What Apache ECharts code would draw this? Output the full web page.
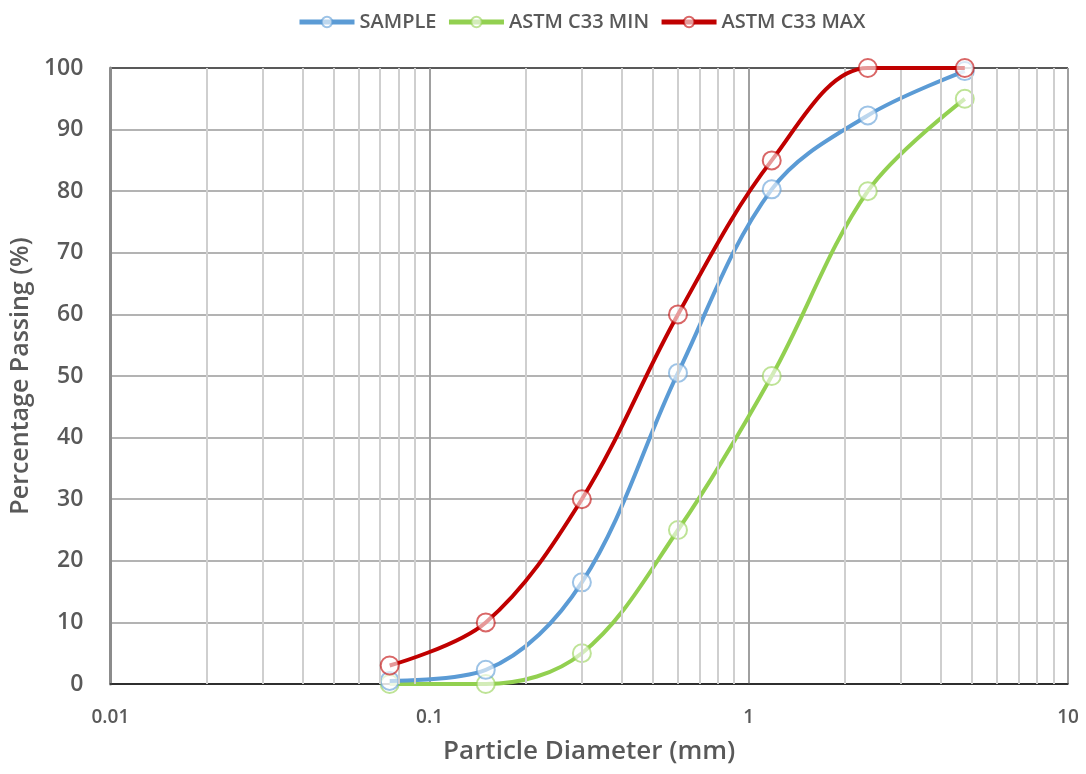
<!DOCTYPE html>
<html>
<head>
<meta charset="utf-8">
<script src="https://cdn.jsdelivr.net/npm/echarts@6/dist/echarts.min.js"></script>
<style>
  html, body { margin: 0; padding: 0; background: #fff; }
  #chart { width: 1086px; height: 774px; }
</style>
</head>
<body>
<div id="chart"></div>
<script>
(function () {
  "use strict";

  // sieve sizes (mm) and percentage passing
  const sieveSizes = [0.075, 0.15, 0.3, 0.6, 1.18, 2.36, 4.75];
  const sampleValues = [0.5, 2.3, 16.5, 50.5, 80.3, 92.3, 99.5];
  const minValues = [0, 0, 5, 25, 50, 80, 95];
  const maxValues = [3, 10, 30, 60, 85, 100, 100];
  const seriesNames = ["SAMPLE", "ASTM C33 MIN", "ASTM C33 MAX"];
  // minor log gridlines (2..9 of each decade)
  const minorGrid = [0.02, 0.03, 0.04, 0.05, 0.06, 0.07, 0.08, 0.09,
    0.2, 0.3, 0.4, 0.5, 0.6, 0.7, 0.8, 0.9,
    2, 3, 4, 5, 6, 7, 8, 9];

  const colors = ["#5b9bd5", "#92d050", "#c00000"];
  const font = "'Open Sans', 'Noto Sans', sans-serif";
  const textGray = "#595959";

  const chart = echarts.init(document.getElementById("chart"));

  const pair = vals => sieveSizes.map((x, i) => [x, vals[i]]);

  const curve = (name, vals, color, z) => ({
    name,
    type: "line",
    data: pair(vals),
    smooth: 0.35,
    z,
    symbol: "emptyCircle",
    symbolSize: 18,
    lineStyle: { color, width: 4 },
    itemStyle: { color, borderWidth: 1.5, opacity: 0.6 },
  });

  chart.setOption({
    animation: false,
    backgroundColor: "#fff",
    legend: {
      top: 7,
      left: 292,
      data: seriesNames,
      itemWidth: 55,
      itemHeight: 13,
      itemGap: 10,
      lineStyle: { width: 5 },
      textStyle: { fontFamily: font, fontSize: 20, fontWeight: 600, color: textGray },
    },
    grid: { left: 110, right: 18, top: 68, bottom: 90, containLabel: false },
    xAxis: {
      type: "log",
      logBase: 10,
      min: 0.01,
      max: 10,
      name: "Particle Diameter (mm)",
      nameLocation: "middle",
      nameGap: 55,
      nameTextStyle: { fontFamily: font, fontSize: 26, fontWeight: 600, color: textGray },
      axisLine: { show: true, lineStyle: { color: "#222", width: 1.5 } },
      axisTick: { show: false },
      axisLabel: {
        margin: 24,
        fontFamily: font, fontSize: 19, fontWeight: 600, color: textGray,
        formatter: v => String(v),
      },
      splitLine: { show: true, lineStyle: { color: "#a0a0a0", width: 2 } },
    },
    yAxis: {
      type: "value",
      min: 0,
      max: 100,
      interval: 10,
      name: "Percentage Passing (%)",
      nameLocation: "middle",
      nameGap: 72,
      nameTextStyle: { fontFamily: font, fontSize: 25, fontWeight: 600, color: textGray },
      axisLine: { show: true, lineStyle: { color: "#8c8c8c", width: 3 } },
      axisTick: { show: false },
      axisLabel: { margin: 27, fontFamily: font, fontSize: 23, fontWeight: 600, color: textGray },
      splitLine: {
        show: true,
        lineStyle: {
          color: ["#222", "#9a9a9a", "#9a9a9a", "#9a9a9a", "#9a9a9a", "#9a9a9a",
            "#9a9a9a", "#9a9a9a", "#9a9a9a", "#9a9a9a", "#222"],
          width: 1.5,
        },
      },
    },
    series: [
      {
        name: "minor-grid",
        type: "line",
        data: [],
        z: 1,
        silent: true,
        markLine: {
          silent: true,
          symbol: "none",
          label: { show: false },
          animation: false,
          lineStyle: { color: "#cfcfcf", width: 2, type: "solid" },
          data: minorGrid.map(x => ({ xAxis: x })),
        },
      },
      curve(seriesNames[0], sampleValues, colors[0], 4),
      curve(seriesNames[1], minValues, colors[1], 3),
      curve(seriesNames[2], maxValues, colors[2], 5),
    ],
  });

  window.addEventListener("resize", () => chart.resize());
})();
</script>
</body>
</html>
